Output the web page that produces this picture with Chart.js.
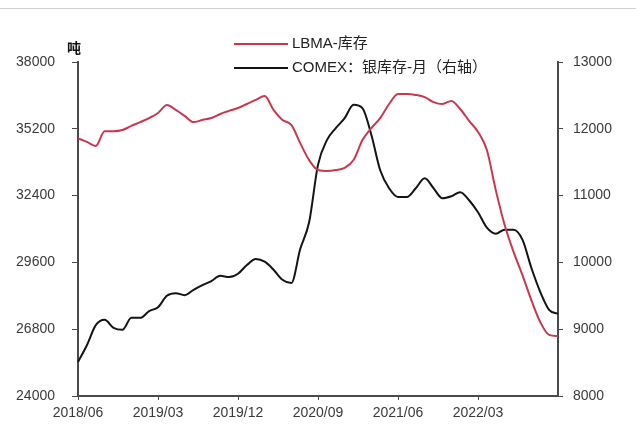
<!DOCTYPE html>
<html>
<head>
<meta charset="utf-8">
<script src="https://cdn.jsdelivr.net/npm/chart.js@4.4.1/dist/chart.umd.min.js"></script>
<style>
  html, body { margin: 0; padding: 0; background: #fff; }
</style>
</head>
<body>
<canvas id="silverChart" width="636" height="428"></canvas>
<script>
// monthly inventory, 2018/06 - 2022/12
const months = [
  "2018/06","2018/07","2018/08","2018/09","2018/10","2018/11","2018/12",
  "2019/01","2019/02","2019/03","2019/04","2019/05","2019/06","2019/07","2019/08","2019/09","2019/10","2019/11","2019/12",
  "2020/01","2020/02","2020/03","2020/04","2020/05","2020/06","2020/07","2020/08","2020/09","2020/10","2020/11","2020/12",
  "2021/01","2021/02","2021/03","2021/04","2021/05","2021/06","2021/07","2021/08","2021/09","2021/10","2021/11","2021/12",
  "2022/01","2022/02","2022/03","2022/04","2022/05","2022/06","2022/07","2022/08","2022/09","2022/10","2022/11","2022/12"
];
const shownMonths = ["2018/06","2019/03","2019/12","2020/09","2021/06","2022/03"];

// LBMA 库存 (吨, left axis)
const lbmaStock = [
  34800, 34650, 34480, 35100, 35100, 35150, 35320, 35480, 35650, 35860,
  36200, 35990, 35740, 35480, 35570, 35650, 35820, 35950, 36070, 36240,
  36410, 36570, 35990, 35570, 35360, 34600, 33890, 33470, 33430, 33470,
  33560, 33890, 34730, 35230, 35650, 36240, 36660, 36660, 36620, 36530,
  36320, 36240, 36370, 36030, 35530, 35070, 34310, 32630, 31170, 30040,
  29070, 28020, 27100, 26560, 26510
];

// COMEX 银库存 (吨, right axis)
const comexStock = [
  8510, 8760, 9060, 9140, 9020, 8990, 9170, 9170, 9270, 9330,
  9500, 9540, 9510, 9590, 9660, 9720, 9800, 9780, 9830, 9960,
  10050, 10010, 9890, 9740, 9690, 10200, 10600, 11460, 11830, 12010,
  12160, 12360, 12310, 11910, 11380, 11110, 10980, 10980, 11110, 11260,
  11110, 10960, 10990, 11050, 10930, 10750, 10520, 10430, 10490, 10490,
  10340, 9920, 9560, 9290, 9230
];

const leftTicks = [24000, 26800, 29600, 32400, 35200, 38000];
const rightTicks = [8000, 9000, 10000, 11000, 12000, 13000];

const axisColor = "#4a4a4a";
const labelColor = "#3a3a3a";
const tickFont = { family: "'Liberation Sans', Arial, sans-serif", size: 14 };

// header rule, unit mark and two-row legend drawn on top of the chart
const decorations = {
  id: "decorations",
  afterDraw(chart) {
    const ctx = chart.ctx;
    ctx.save();
    ctx.strokeStyle = "#cfcfcf";
    ctx.lineWidth = 1;
    ctx.beginPath();
    ctx.moveTo(0, 8.5);
    ctx.lineTo(636, 8.5);
    ctx.stroke();

    ctx.fillStyle = "#111";
    ctx.font = "bold 14px 'Noto Sans CJK SC', sans-serif";
    ctx.textAlign = "center";
    ctx.textBaseline = "middle";
    ctx.fillText("吨", 74, 48);

    ctx.textAlign = "left";
    ctx.font = "15px 'Liberation Sans', 'Noto Sans CJK SC', sans-serif";
    chart.data.datasets.forEach((ds, i) => {
      const y = 44 + i * 24;
      ctx.strokeStyle = ds.borderColor;
      ctx.lineWidth = 2;
      ctx.beginPath();
      ctx.moveTo(234, y);
      ctx.lineTo(288, y);
      ctx.stroke();
      ctx.fillStyle = "#222";
      ctx.fillText(ds.label, 292, y);
    });
    ctx.restore();
  }
};

new Chart(document.getElementById("silverChart"), {
  type: "line",
  data: {
    labels: months,
    datasets: [
      {
        label: "LBMA-库存",
        data: lbmaStock,
        yAxisID: "yLeft",
        borderColor: "#c8384f",
        borderWidth: 2,
        pointRadius: 0,
        cubicInterpolationMode: "monotone"
      },
      {
        label: "COMEX：银库存-月（右轴）",
        data: comexStock,
        yAxisID: "yRight",
        borderColor: "#141414",
        borderWidth: 2,
        pointRadius: 0,
        cubicInterpolationMode: "monotone"
      }
    ]
  },
  options: {
    responsive: false,
    animation: false,
    layout: { padding: { top: 62, left: 0, right: 0, bottom: 0 } },
    plugins: {
      legend: { display: false },
      tooltip: { enabled: false }
    },
    scales: {
      x: {
        offset: false,
        border: { color: axisColor, width: 2 },
        grid: { display: true, drawOnChartArea: false, tickLength: 4, color: axisColor },
        ticks: {
          autoSkip: false,
          maxRotation: 0,
          padding: 5,
          color: labelColor,
          font: tickFont,
          callback: (v, i) => shownMonths.includes(months[i]) ? months[i] : null
        },
        afterFit: (scale) => { scale.height = 32; }
      },
      yLeft: {
        position: "left",
        min: 24000,
        max: 38000,
        afterBuildTicks: (scale) => { scale.ticks = leftTicks.map(v => ({ value: v })); },
        border: { color: axisColor, width: 2 },
        grid: { display: true, drawOnChartArea: false, tickLength: 6, color: axisColor },
        ticks: { padding: 17, color: labelColor, font: tickFont, callback: (v) => String(v) },
        afterFit: (scale) => { scale.width = 78; }
      },
      yRight: {
        position: "right",
        min: 8000,
        max: 13000,
        afterBuildTicks: (scale) => { scale.ticks = rightTicks.map(v => ({ value: v })); },
        border: { color: axisColor, width: 2 },
        grid: { display: true, drawOnChartArea: false, tickLength: 5, color: axisColor },
        ticks: { padding: 10, color: labelColor, font: tickFont, callback: (v) => String(v) },
        afterFit: (scale) => { scale.width = 78; }
      }
    }
  },
  plugins: [decorations]
});
</script>
</body>
</html>
